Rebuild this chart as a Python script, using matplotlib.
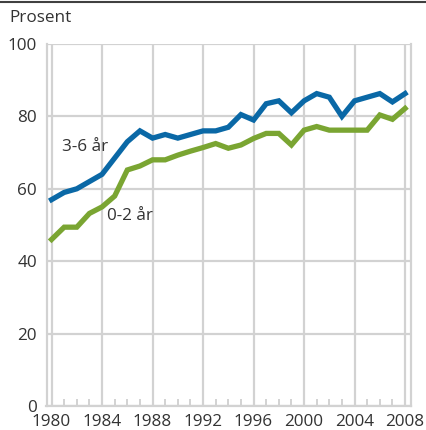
import matplotlib
matplotlib.use('Agg')
import matplotlib.pyplot as plt
from matplotlib.lines import Line2D
import numpy as np

plt.rcParams['font.family'] = ['Open Sans', 'DejaVu Sans']

# data -------------------------------------------------------------
years = list(range(1980, 2009))
barn_3_6 = [57, 59, 60, 62, 64, 68.5, 73, 76, 74, 75, 74, 75, 76, 76, 77,
            80.5, 79, 83.5, 84.3, 81, 84.3, 86.3, 85.3, 80, 84.3, 85.3, 86.3, 84, 86.3]
barn_0_2 = [46, 49.4, 49.4, 53.2, 55, 58, 65.2, 66.3, 68, 68, 69.3, 70.4, 71.4, 72.5, 71.2,
            72.1, 73.9, 75.3, 75.3, 72.1, 76.2, 77.2, 76.2, 76.2, 76.2, 76.2, 80.4, 79.2, 82.2]
xticks = list(range(1980, 2009, 4))
yticks = [0, 20, 40, 60, 80, 100]

blue = '#0a68a6'
green = '#7aa532'
grid_c = '#d2d2d2'
text_c = '#333333'
fs = 12.3

fig = plt.figure(figsize=(4.26, 4.30), dpi=100)
ax = fig.add_axes([46.5/426, 1-406/430, (411-46.5)/426, (406-44)/430])

ax.plot(years, barn_3_6, color=blue, lw=3.8, solid_joinstyle='miter', zorder=3)
ax.plot(years, barn_0_2, color=green, lw=3.8, solid_joinstyle='miter', zorder=3)

ax.set_xlim(1979.6, 2008.47)
ax.set_ylim(0, 100)
ax.set_xticks(xticks)
ax.set_xticks(years, minor=True)
ax.set_yticks(yticks)
ax.grid(True, which='major', color=grid_c, lw=1.6)
ax.tick_params(which='major', length=0, labelsize=fs, labelcolor=text_c)
ax.tick_params(axis='x', which='major', pad=6)
ax.tick_params(axis='y', which='major', pad=7)
ax.tick_params(axis='x', which='minor', direction='in', length=5, width=1.4, color=grid_c)
ax.tick_params(axis='y', which='minor', length=0)
for s in ax.spines.values():
    s.set_color(grid_c)
    s.set_linewidth(1.6)
ax.spines['top'].set_visible(False)

ax.text(1980.85, 71.5, '3-6 år', fontsize=fs, color=text_c, va='center', ha='left')
ax.text(1984.4, 52.5, '0-2 år', fontsize=fs, color=text_c, va='center', ha='left')

fig.text(9/426, 1-18/430, 'Prosent', fontsize=fs, color=text_c, va='center', ha='left')
fig.add_artist(Line2D([0, 1], [1-2/430, 1-2/430], color='#404040', lw=1.5, transform=fig.transFigure))

plt.savefig('out.png', dpi=100)
plt.close()
